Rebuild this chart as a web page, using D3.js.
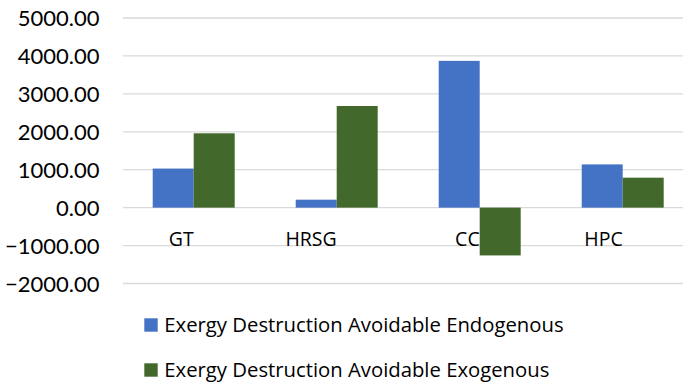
<!DOCTYPE html>
<html>
<head>
<meta charset="utf-8">
<script src="https://cdn.jsdelivr.net/npm/d3@7"></script>
<style>
  html, body { margin: 0; padding: 0; background: #fff; }
  svg { display: block; font-family: "Open Sans", Lato, sans-serif; }
</style>
</head>
<body>
<svg id="chart" width="683" height="383"></svg>
<script>
// Avoidable exergy destruction per component, split into endogenous / exogenous parts
const categories = ["GT", "HRSG", "CC", "HPC"];
const seriesNames = [
  "Exergy Destruction Avoidable Endogenous",
  "Exergy Destruction Avoidable Exogenous"
];
const endogenous = [1030, 210, 3870, 1140];
const exogenous = [1960, 2680, -1260, 790];
const yTicks = [-2000, -1000, 0, 1000, 2000, 3000, 4000, 5000];
const colors = ["#4472C4", "#43682B"];

const seriesValues = [endogenous, exogenous];
const rows = categories.map((c, i) => ({
  category: c,
  values: seriesNames.map((s, k) => ({ series: s, k, value: seriesValues[k][i] }))
}));

const svg = d3.select("#chart");

const y = d3.scaleLinear().domain([-2000, 5000]).range([283.5, 18]);
const x0 = d3.scaleBand()
  .domain(categories)
  .range([122.2, 694.2])
  .paddingInner(0.4266)
  .paddingOuter(0.2133);
const x1 = d3.scaleBand()
  .domain(seriesNames)
  .range([0, x0.bandwidth()]);

// Horizontal gridlines
svg.append("g")
  .selectAll("line")
  .data(yTicks)
  .join("line")
  .attr("x1", 123)
  .attr("x2", 683)
  .attr("y1", d => y(d))
  .attr("y2", d => y(d))
  .attr("stroke", "#d9d9d9")
  .attr("stroke-width", 1.3);

// Value axis labels
const yAxis = d3.axisLeft(y)
  .tickValues(yTicks)
  .tickFormat(d3.format(".2f"))
  .tickSize(0)
  .tickPadding(0);
const yg = svg.append("g")
  .attr("transform", "translate(99.5,0)")
  .call(yAxis);
yg.select(".domain").remove();
yg.selectAll("text")
  .attr("font-family", "Lato, 'Open Sans', sans-serif")
  .attr("font-size", 22)
  .attr("fill", "#000")
  .attr("dy", "0.36em");

// Bars
const groups = svg.append("g")
  .selectAll("g")
  .data(rows)
  .join("g")
  .attr("transform", d => `translate(${x0(d.category)},0)`);

groups.selectAll("rect")
  .data(d => d.values)
  .join("rect")
  .attr("x", d => x1(d.series))
  .attr("width", x1.bandwidth())
  .attr("y", d => y(Math.max(0, d.value)))
  .attr("height", d => Math.abs(y(d.value) - y(0)))
  .attr("fill", d => colors[d.k]);

// Category labels, drawn ending at each category centre
svg.append("g")
  .selectAll("text")
  .data(categories)
  .join("text")
  .attr("x", d => x0(d) + x0.bandwidth() / 2)
  .attr("y", 246)
  .attr("text-anchor", "end")
  .attr("font-size", 19.5)
  .attr("fill", "#000")
  .text(d => d);

// Legend
const legend = svg.append("g")
  .selectAll("g")
  .data(seriesNames)
  .join("g")
  .attr("transform", (d, i) => `translate(144.3,${318.3 + i * 45})`);
legend.append("rect")
  .attr("width", 13.4)
  .attr("height", 13.4)
  .attr("fill", (d, i) => colors[i]);
legend.append("text")
  .attr("x", 20)
  .attr("y", 14)
  .attr("font-size", 20.3)
  .attr("fill", "#000")
  .text(d => d);
</script>
</body>
</html>
